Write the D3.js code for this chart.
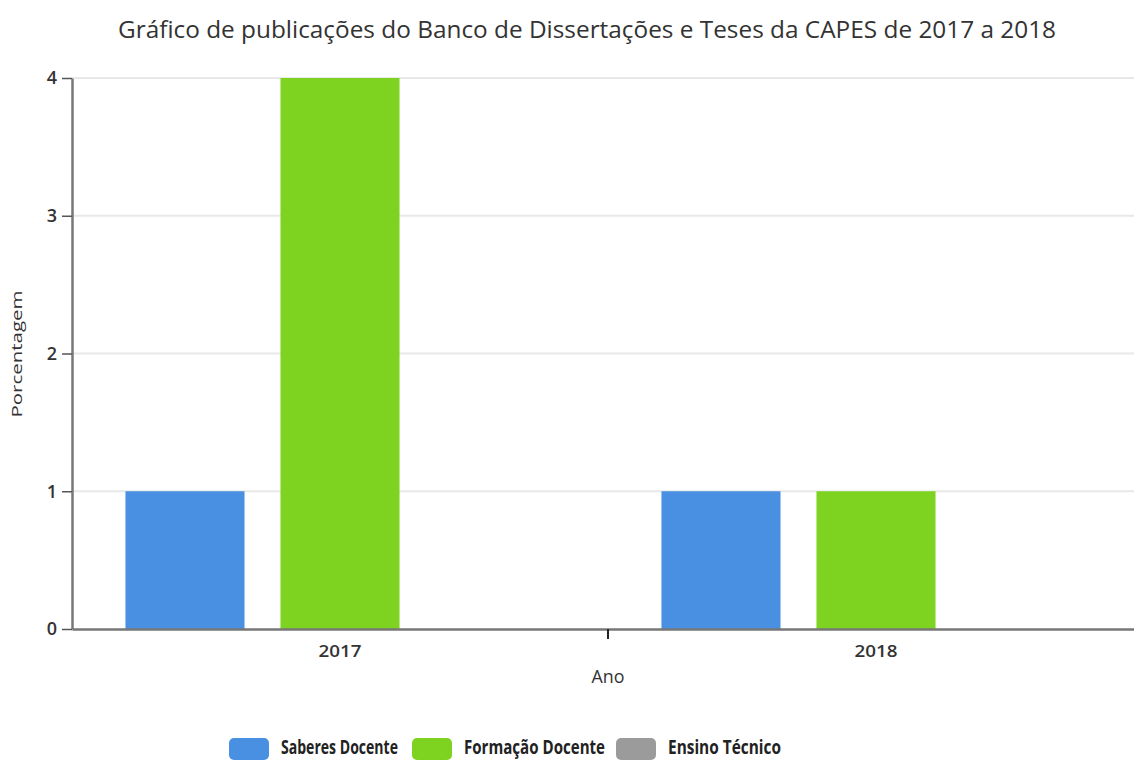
<!doctype html>
<html lang="pt">
<head>
<meta charset="UTF-8" />
<script src="https://d3js.org/d3.v7.min.js"></script>
<title>Gráfico CAPES</title>
<style>
  body { margin: 0; background: #fff; }
  svg { display: block; font-family: "Open Sans", "DejaVu Sans", sans-serif; }
</style>
</head>
<body>
<div id="chart"></div>
<script>
// Data
const years = ["2017", "2018"]
const seriesNames = ["Saberes Docente", "Formação Docente", "Ensino Técnico"]
const seriesColors = ["#4a90e2", "#7ed321", "#9b9b9b"]
const saberesDocente = [1, 1]
const formacaoDocente = [4, 1]
const ensinoTecnico = [0, 0]
const yTicks = [0, 1, 2, 3, 4]

const seriesValues = [saberesDocente, formacaoDocente, ensinoTecnico]
const data = years.map((yr, i) => ({
  year: yr,
  values: seriesNames.map((s, j) => ({ key: s, value: seriesValues[j][i], color: seriesColors[j] }))
}))

const W = 1134, H = 760
const plotLeft = 72, plotRight = 1144, plotTop = 78, plotBottom = 629

const svg = d3.select("#chart").append("svg").attr("width", W).attr("height", H)

const x0 = d3.scaleBand().domain(years).range([plotLeft, plotRight]).paddingInner(0).paddingOuter(0)
const x1 = d3.scaleBand().domain(seriesNames).range([0, x0.bandwidth()]).paddingInner(0.232).paddingOuter(0.345)
const y = d3.scaleLinear().domain([0, 4]).range([plotBottom, plotTop])

// Gridlines
svg.append("g")
  .selectAll("line")
  .data(yTicks.filter(d => d > 0))
  .join("line")
  .attr("x1", plotLeft).attr("x2", W)
  .attr("y1", d => y(d)).attr("y2", d => y(d))
  .attr("stroke", "#e8e8e8").attr("stroke-width", 2)

// Bars
const groups = svg.append("g").selectAll("g")
  .data(data)
  .join("g")
  .attr("transform", d => `translate(${x0(d.year)},0)`)

groups.selectAll("rect")
  .data(d => d.values)
  .join("rect")
  .attr("x", d => x1(d.key))
  .attr("width", x1.bandwidth())
  .attr("y", d => y(d.value))
  .attr("height", d => plotBottom - y(d.value))
  .attr("fill", d => d.color)

// Y axis
const yAxis = svg.append("g")
  .attr("transform", `translate(${plotLeft},0)`)
  .call(d3.axisLeft(y).tickValues(yTicks).tickFormat(d3.format("d")).tickSize(10).tickSizeOuter(0))
yAxis.select(".domain").attr("stroke", "#777").attr("stroke-width", 2.5)
yAxis.selectAll(".tick line").attr("stroke", "#555").attr("stroke-width", 1.5)
yAxis.selectAll(".tick text")
  .attr("font-size", 18).attr("font-weight", 600).attr("fill", "#333")
  .attr("font-family", "'Open Sans', sans-serif")
  .attr("x", -15)

// X axis
const xAxis = svg.append("g")
  .attr("transform", `translate(0,${plotBottom})`)
  .call(d3.axisBottom(x0).tickSize(0).tickSizeOuter(0))
xAxis.select(".domain").attr("stroke", "#777").attr("stroke-width", 2.5)
xAxis.selectAll(".tick text")
  .attr("font-size", 17).attr("font-weight", 600).attr("fill", "#333")
  .attr("font-family", "'Open Sans', sans-serif")
  .attr("dy", 0).attr("y", 28)
  .attr("textLength", 43).attr("lengthAdjust", "spacingAndGlyphs")
// separator tick between years
xAxis.append("line")
  .attr("x1", x0("2018")).attr("x2", x0("2018"))
  .attr("y1", 0).attr("y2", 10)
  .attr("stroke", "#222").attr("stroke-width", 2)

// Axis titles
svg.append("text")
  .attr("x", (plotLeft + plotRight) / 2).attr("y", 683)
  .attr("text-anchor", "middle")
  .attr("font-size", 19).attr("fill", "#333")
  .attr("textLength", 33).attr("lengthAdjust", "spacingAndGlyphs")
  .text("Ano")

svg.append("text")
  .attr("transform", `translate(22,354) rotate(-90)`)
  .attr("text-anchor", "middle")
  .attr("font-size", 15).attr("fill", "#333")
  .attr("textLength", 127).attr("lengthAdjust", "spacingAndGlyphs")
  .text("Porcentagem")

// Title
svg.append("text")
  .attr("x", 587).attr("y", 38)
  .attr("text-anchor", "middle")
  .attr("font-size", 23).attr("fill", "#333")
  .attr("textLength", 938).attr("lengthAdjust", "spacingAndGlyphs")
  .text("Gráfico de publicações do Banco de Dissertações e Teses da CAPES de 2017 a 2018")

// Legend
const legendX = [229, 412, 616]
const legendTextW = [117, 141, 113]
const legend = svg.append("g").selectAll("g")
  .data(seriesNames)
  .join("g")
  .attr("transform", (d, i) => `translate(${legendX[i]},738)`)
legend.append("rect")
  .attr("width", 40).attr("height", 22).attr("rx", 5)
  .attr("fill", (d, i) => seriesColors[i])
legend.append("text")
  .attr("x", 52).attr("y", 16)
  .attr("font-size", 20).attr("font-weight", "bold").attr("fill", "#222")
  .attr("textLength", (d, i) => legendTextW[i]).attr("lengthAdjust", "spacingAndGlyphs")
  .text(d => d)
</script>
</body>
</html>
